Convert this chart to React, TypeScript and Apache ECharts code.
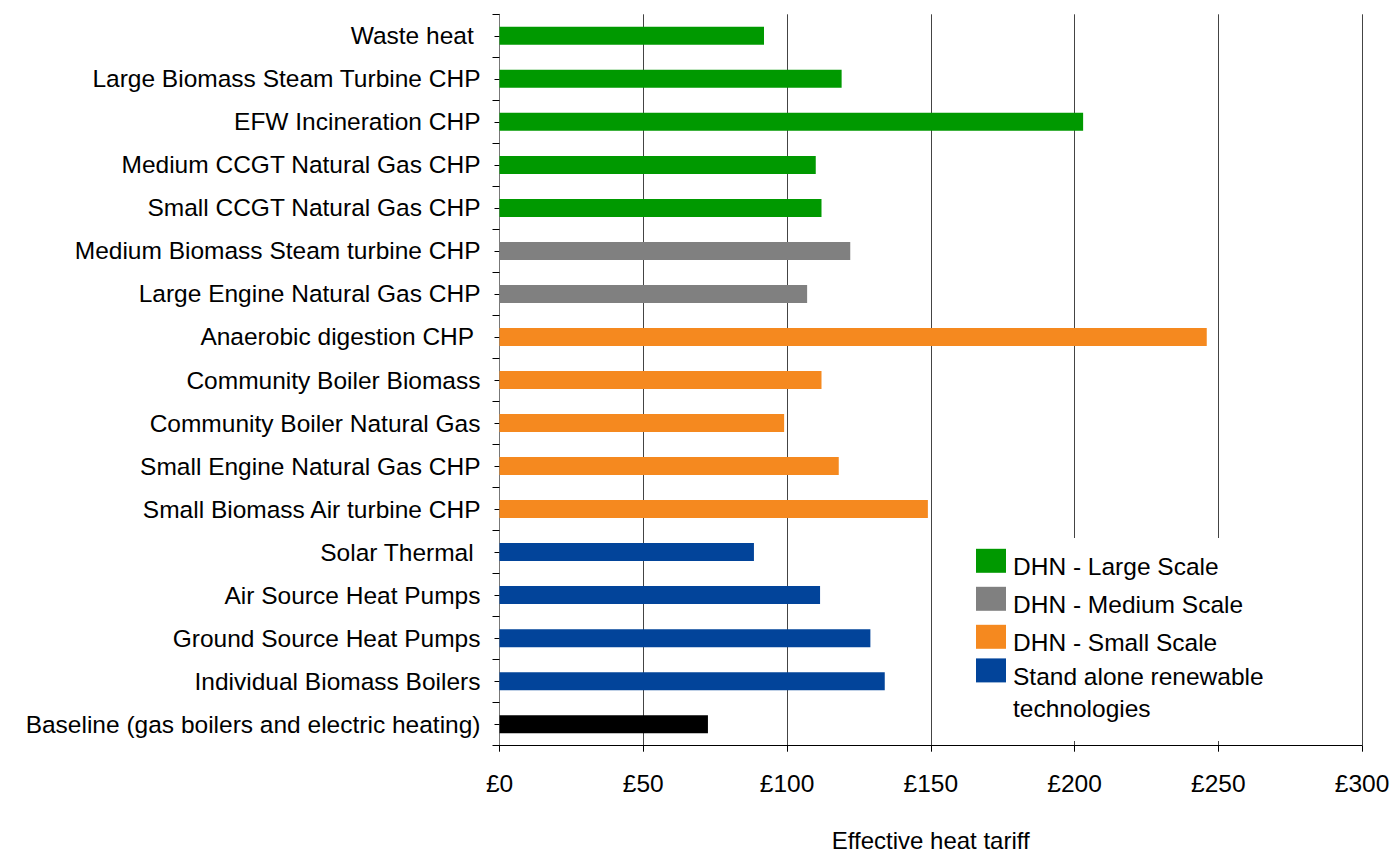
import React, { useEffect, useRef } from "react";
import * as echarts from "echarts";

const categories = [
  "Waste heat ",
  "Large Biomass Steam Turbine CHP",
  "EFW Incineration CHP",
  "Medium CCGT Natural Gas CHP",
  "Small CCGT Natural Gas CHP",
  "Medium Biomass Steam turbine CHP",
  "Large Engine Natural Gas CHP",
  "Anaerobic digestion CHP ",
  "Community Boiler Biomass",
  "Community Boiler Natural Gas",
  "Small Engine Natural Gas CHP",
  "Small Biomass Air turbine CHP",
  "Solar Thermal ",
  "Air Source Heat Pumps",
  "Ground Source Heat Pumps",
  "Individual Biomass Boilers",
  "Baseline (gas boilers and electric heating)",
];

const tariffValues = [92, 119, 203, 110, 112, 122, 107, 246, 112, 99, 118, 149, 88.5, 111.5, 129, 134, 72.5];

const categoryGroup = [
  "DHN - Large Scale",
  "DHN - Large Scale",
  "DHN - Large Scale",
  "DHN - Large Scale",
  "DHN - Large Scale",
  "DHN - Medium Scale",
  "DHN - Medium Scale",
  "DHN - Small Scale",
  "DHN - Small Scale",
  "DHN - Small Scale",
  "DHN - Small Scale",
  "DHN - Small Scale",
  "Stand alone renewable technologies",
  "Stand alone renewable technologies",
  "Stand alone renewable technologies",
  "Stand alone renewable technologies",
  "Baseline",
];

const groupNames = [
  "DHN - Large Scale",
  "DHN - Medium Scale",
  "DHN - Small Scale",
  "Stand alone renewable technologies",
  "Baseline",
];
const groupColors = ["#009900", "#808080", "#F5891F", "#02449A", "#000000"];

const xTicks = [0, 50, 100, 150, 200, 250, 300];

const FONT = "Liberation Sans, Arial, sans-serif";

export default function App() {
  const ref = useRef<HTMLDivElement>(null);
  useEffect(() => {
    if (!ref.current) return;
    const chart = echarts.init(ref.current, null, { renderer: "svg" });
    const series = groupNames.map((g, gi) => ({
      name: g,
      type: "bar",
      stack: "all",
      barWidth: 18,
      yAxisIndex: 0,
      itemStyle: { color: groupColors[gi] },
      data: categories.map((_, i) => (categoryGroup[i] === g ? tariffValues[i] : "-")),
    }));
    chart.setOption({
      animation: false,
      backgroundColor: "#ffffff",
      textStyle: { fontFamily: FONT },
      grid: {
        left: 499.5,
        right: 30,
        top: 14.3,
        bottom: 109.3,
        containLabel: false,
        outerBoundsMode: "none",
      },
      graphic: [
        {
          type: "rect",
          z: 3,
          shape: { x: 955, y: 538, width: 345, height: 203 },
          style: { fill: "#ffffff" },
          silent: true,
        },
      ],
      legend: [
        {
          orient: "vertical",
          left: 976,
          top: 545.8,
          padding: 0,
          itemWidth: 30,
          itemHeight: 24,
          itemGap: 5,
          icon: "rect",
          z: 5,
          formatter: (name: string) => "{s| }\n{t|" + name + "}",
          textStyle: {
            fontSize: 24,
            color: "#000",
            fontFamily: FONT,
            rich: {
              s: { fontSize: 6, lineHeight: 11 },
              t: { fontSize: 24.5, lineHeight: 24, color: "#000", fontFamily: FONT, padding: [0, 0, 0, 2] },
            },
          },
          data: groupNames.slice(0, 3),
        },
        {
          orient: "vertical",
          left: 976,
          top: 635.4,
          padding: 0,
          itemWidth: 30,
          itemHeight: 24,
          icon: "rect",
          z: 5,
          formatter: () => "{s| }\n{t|Stand alone renewable}\n{t|technologies}",
          textStyle: {
            fontSize: 24,
            color: "#000",
            fontFamily: FONT,
            rich: {
              s: { fontSize: 6, lineHeight: 45.2 },
              t: { fontSize: 24.5, lineHeight: 32, color: "#000", fontFamily: FONT, padding: [0, 0, 0, 2] },
            },
          },
          data: [groupNames[3]],
        },
      ],
      xAxis: {
        type: "value",
        min: xTicks[0],
        max: xTicks[xTicks.length - 1],
        interval: 50,
        name: "Effective heat tariff",
        nameLocation: "middle",
        nameGap: 84,
        nameTextStyle: { fontSize: 24, lineHeight: 22, color: "#000", fontFamily: FONT },
        axisLine: { show: true, lineStyle: { color: "#000", width: 1 } },
        axisTick: { show: true, length: 6, lineStyle: { color: "#000" } },
        axisLabel: { fontSize: 24.5, color: "#000", margin: 25, formatter: (v: number) => "£" + v, fontFamily: FONT },
        splitLine: { show: true, lineStyle: { color: "#444", width: 1 } },
      },
      yAxis: [
        {
          type: "category",
          data: categories,
          inverse: true,
          position: "left",
          axisLine: { show: true, lineStyle: { color: "#777", width: 1 } },
          axisTick: { show: true, alignWithLabel: false, length: 7, lineStyle: { color: "#000" } },
          axisLabel: { fontSize: 24.5, color: "#000", margin: 19, fontFamily: FONT },
          splitLine: { show: false },
        },
        {
          type: "category",
          data: categories,
          inverse: true,
          position: "left",
          axisLine: { show: false },
          axisTick: { show: true, alignWithLabel: true, length: 5, lineStyle: { color: "#000" } },
          axisLabel: { show: false },
          splitLine: { show: false },
        },
      ],
      series,
    });
    return () => chart.dispose();
  }, []);
  return (
    <div
      ref={ref}
      style={{ position: "absolute", left: 0, top: 0, width: 1392, height: 855, background: "#fff" }}
    />
  );
}
